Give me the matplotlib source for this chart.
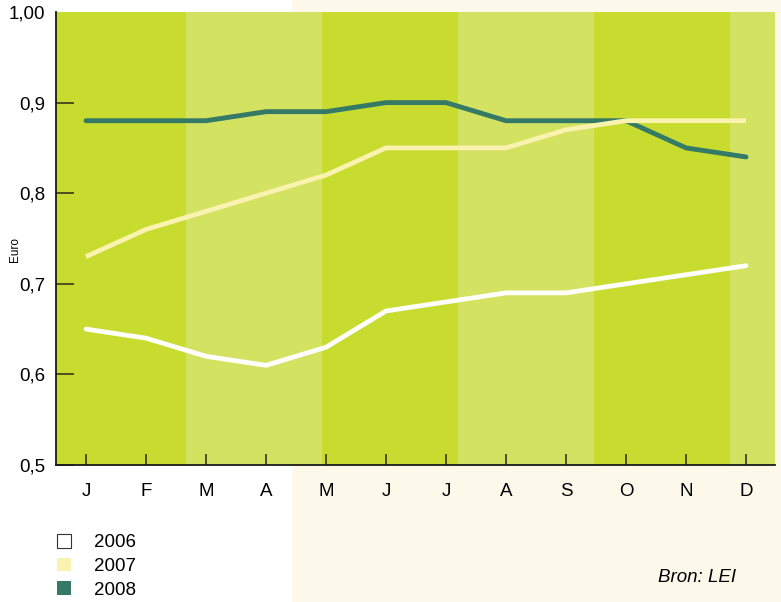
import numpy as np
import matplotlib
matplotlib.use("Agg")
from matplotlib import pyplot as plt
from matplotlib.patches import Rectangle, Patch

plt.rcParams['font.family'] = ['Liberation Sans', 'DejaVu Sans']

maanden = ["J", "F", "M", "A", "M", "J", "J", "A", "S", "O", "N", "D"]
prijs_2006 = [0.65, 0.64, 0.62, 0.61, 0.63, 0.67, 0.68, 0.69, 0.69, 0.70, 0.71, 0.72]
prijs_2007 = [0.73, 0.76, 0.78, 0.80, 0.82, 0.85, 0.85, 0.85, 0.87, 0.88, 0.88, 0.88]
prijs_2008 = [0.88, 0.88, 0.88, 0.89, 0.89, 0.90, 0.90, 0.88, 0.88, 0.88, 0.85, 0.84]
y_ticks = [0.5, 0.6, 0.7, 0.8, 0.9, 1.0]
y_labels = ["0,5", "0,6", "0,7", "0,8", "0,9", "1,00"]

donker = "#c8dc30"
licht = "#d4e262"
creme = "#fdf9ea"
kleur_2006 = "#ffffff"
kleur_2007 = "#faf3b0"
kleur_2008 = "#357a66"

fig = plt.figure(figsize=(7.81, 6.02), dpi=100)
fig.patch.set_facecolor("white")
# cream panel on the right half of the page
paneel = Rectangle((292 / 781, 0), 1, 1, transform=fig.transFigure,
                   facecolor=creme, edgecolor="none")
paneel.set_zorder(-1)
fig.add_artist(paneel)

ax = fig.add_axes([56 / 781, 137 / 602, 719 / 781, 453 / 602])
ax.set_zorder(1)
ax.patch.set_alpha(0)
x = np.arange(len(maanden))
ax.set_xlim(-0.5, 11.483)
ax.set_ylim(0.5, 1.0)

# alternating green bands
randen = [-0.5, 1.667, 3.933, 6.2, 8.467, 10.733, 11.483]
for i in range(len(randen) - 1):
    ax.axvspan(randen[i], randen[i + 1], color=donker if i % 2 == 0 else licht,
               lw=0, zorder=0)

ax.plot(x, prijs_2006, color=kleur_2006, lw=3.4, solid_capstyle="round",
        solid_joinstyle="round", zorder=3)
ax.plot(x, prijs_2008, color=kleur_2008, lw=3.5, solid_capstyle="round",
        solid_joinstyle="round", zorder=3)
ax.plot(x, prijs_2007, color=kleur_2007, lw=3.4, solid_capstyle="butt",
        solid_joinstyle="round", zorder=4)

ax.set_xticks(x)
ax.set_xticklabels(maanden, fontsize=13.5)
ax.set_yticks(y_ticks)
ax.set_yticklabels(y_labels, fontsize=13.5)
ax.tick_params(axis="y", direction="in", length=13, width=1.1, color="#2a2a1a", pad=8)
ax.tick_params(axis="x", direction="in", length=8, width=1.1, color="#2a2a1a", pad=13)
ax.yaxis.get_major_ticks()[-1].tick1line.set_visible(False)
for s in ["top", "right"]:
    ax.spines[s].set_visible(False)
for s in ["left", "bottom"]:
    ax.spines[s].set_color("#1a1a1a")
    ax.spines[s].set_linewidth(1.3)
    ax.spines[s].set_zorder(5)

fig.text(15 / 781, 1 - 250 / 602, "Euro", rotation=90, fontsize=8.5,
         ha="center", va="center")

handles = [Patch(facecolor=kleur_2006, edgecolor="#333333", lw=0.8, label="2006"),
           Patch(facecolor=kleur_2007, edgecolor="none", label="2007"),
           Patch(facecolor=kleur_2008, edgecolor="none", label="2008")]
fig.legend(handles=handles, loc="upper left", bbox_to_anchor=(42 / 781, 1 - 519 / 602),
           frameon=False, fontsize=13.5, handlelength=0.75, handleheight=0.75,
           handletextpad=1.2, labelspacing=0.33, borderpad=0.3)

fig.text(736 / 781, 1 - 578 / 602, "Bron: LEI", style="italic", fontsize=13.5,
         ha="right", va="center")

fig.savefig("out.png", dpi=100)
